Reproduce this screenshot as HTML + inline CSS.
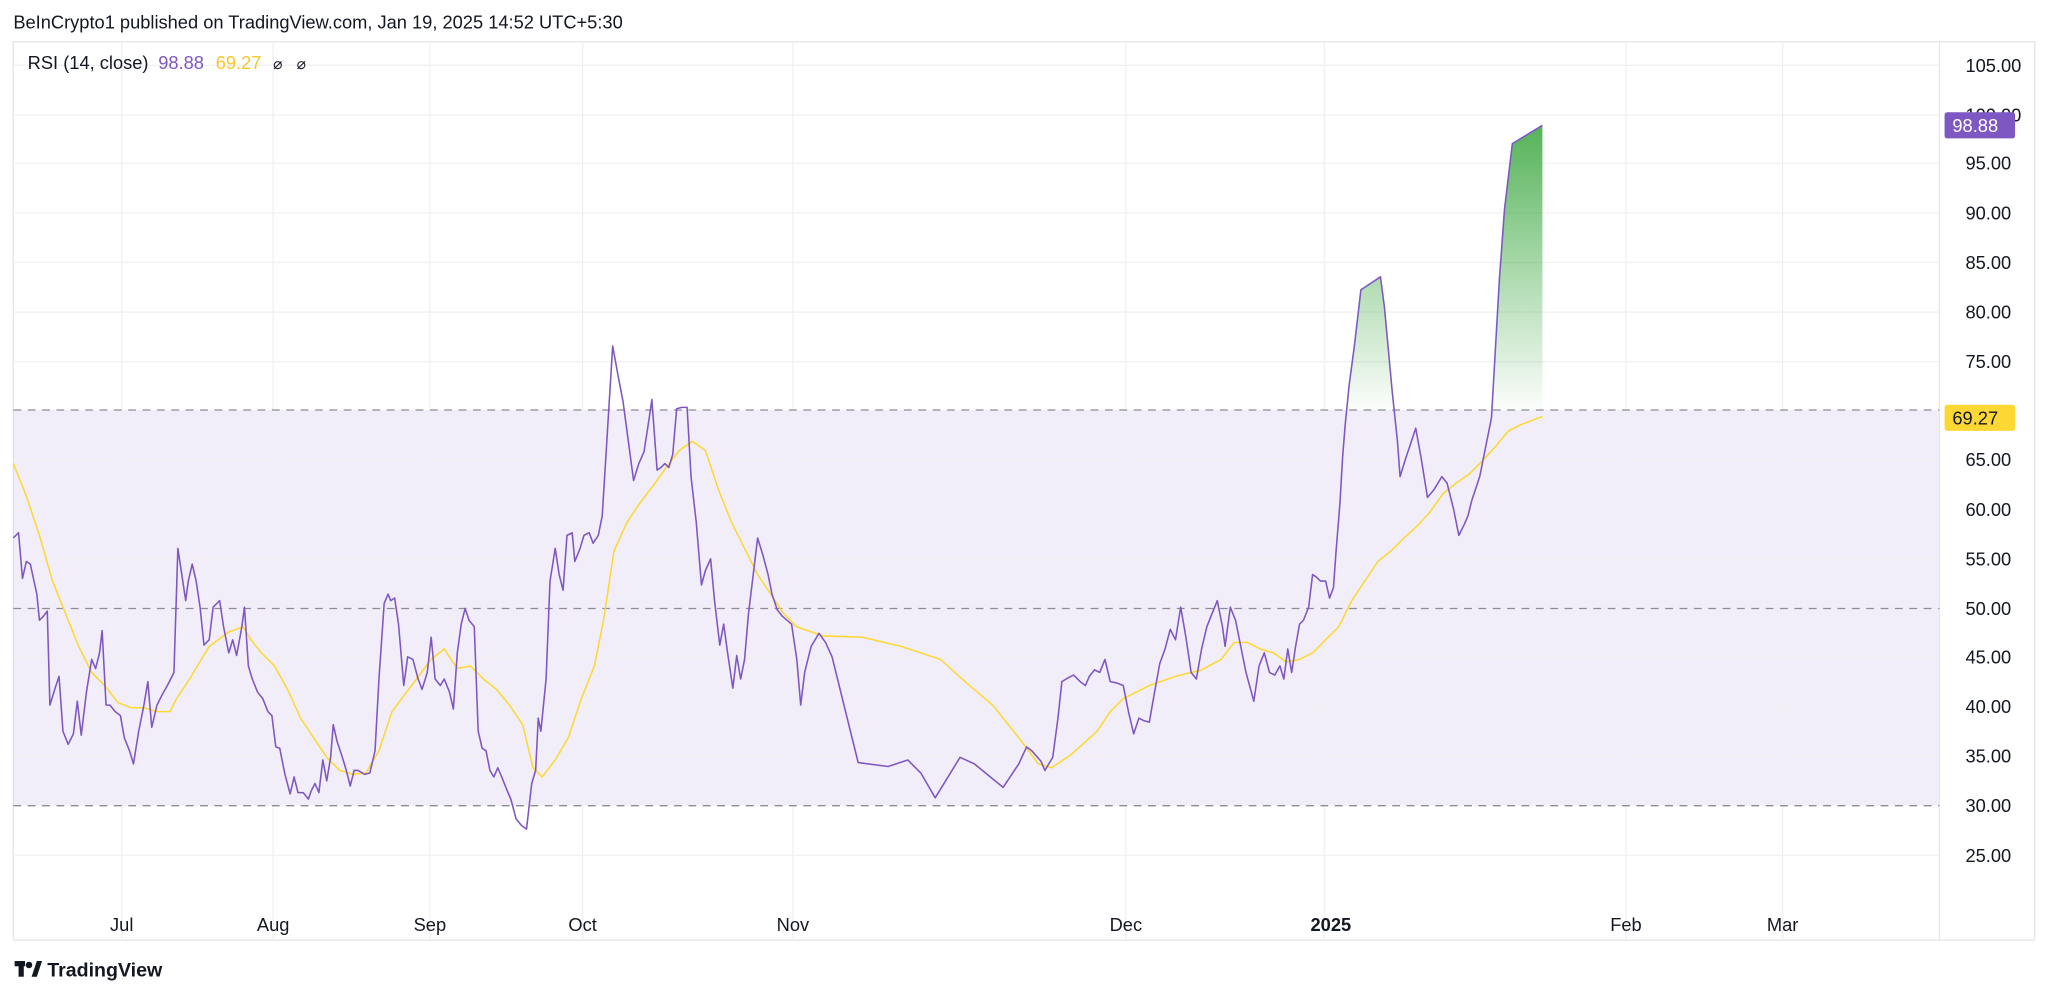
<!DOCTYPE html>
<html><head><meta charset="utf-8"><style>
html,body{margin:0;padding:0;background:#fff;}
svg{display:block;font-family:"Liberation Sans",sans-serif;}
</style></head><body>
<svg width="2048" height="995" viewBox="0 0 1568 762" xmlns="http://www.w3.org/2000/svg">
<defs>
<linearGradient id="g" x1="0" y1="96" x2="0" y2="314" gradientUnits="userSpaceOnUse">
<stop offset="0" stop-color="#4caf50" stop-opacity="0.95"/>
<stop offset="1" stop-color="#4caf50" stop-opacity="0.02"/>
</linearGradient>
<clipPath id="c"><rect x="0" y="0" width="1568" height="314"/></clipPath>
</defs>
<rect x="10" y="32" width="1548" height="688" fill="#fff" stroke="#e6e6ea"/>
<text x="10" y="22" font-size="14" fill="#131722">BeInCrypto1 published on TradingView.com, Jan 19, 2025 14:52 UTC+5:30</text>
<!-- band -->
<rect x="10" y="314" width="1475" height="303" fill="#7e57c2" fill-opacity="0.1"/>
<!-- grid -->
<g stroke="#f0f0f3" stroke-width="1">
<line x1="10" x2="1485" y1="50" y2="50"/><line x1="10" x2="1485" y1="88" y2="88"/><line x1="10" x2="1485" y1="125" y2="125"/><line x1="10" x2="1485" y1="163" y2="163"/><line x1="10" x2="1485" y1="201" y2="201"/><line x1="10" x2="1485" y1="239" y2="239"/><line x1="10" x2="1485" y1="277" y2="277"/><line x1="10" x2="1485" y1="352" y2="352"/><line x1="10" x2="1485" y1="390" y2="390"/><line x1="10" x2="1485" y1="428" y2="428"/><line x1="10" x2="1485" y1="503" y2="503"/><line x1="10" x2="1485" y1="541" y2="541"/><line x1="10" x2="1485" y1="579" y2="579"/><line x1="10" x2="1485" y1="655" y2="655"/>
<line x1="93" x2="93" y1="32" y2="720"/><line x1="209" x2="209" y1="32" y2="720"/><line x1="329" x2="329" y1="32" y2="720"/><line x1="446" x2="446" y1="32" y2="720"/><line x1="607" x2="607" y1="32" y2="720"/><line x1="862" x2="862" y1="32" y2="720"/><line x1="1014" x2="1014" y1="32" y2="720"/><line x1="1245" x2="1245" y1="32" y2="720"/><line x1="1365" x2="1365" y1="32" y2="720"/>
</g>
<line x1="1485" x2="1485" y1="32" y2="720" stroke="#e6e6ea"/>
<g stroke="#8c8c98" stroke-dasharray="6,5" stroke-width="1">
<line x1="10" x2="1485" y1="314" y2="314"/><line x1="10" x2="1485" y1="466" y2="466"/><line x1="10" x2="1485" y1="617" y2="617"/>
</g>
<!-- green fill -->
<g clip-path="url(#c)">
<polygon fill="url(#g)" points="1026,385 1028,350 1030,325 1033,295 1037,265 1042,222 1057,212 1060,235 1066,300 1070,338 1070,314 1026,314"/>
<polygon fill="url(#g)" points="1137,345 1142,320 1148,215 1152,160 1158,110 1181,96 1181,314 1137,314"/>
</g>
<!-- MA -->
<polyline fill="none" stroke="#fdd835" stroke-width="1.2" points="10,355 20,380 30,410 40,445 50,470 60,495 70,515 80,525 90,538 100,542 110,542 120,545 130,545 135,535 145,520 160,495 175,484 186,480 192,490 200,500 210,510 220,528 230,550 240,565 250,580 260,590 270,593 280,592 290,575 300,545 315,525 330,505 340,497 350,512 360,510 370,520 380,528 390,540 400,555 408,588 415,595 425,582 435,565 445,535 455,510 462,475 470,422 480,400 490,385 500,372 510,358 520,345 530,338 540,345 550,375 560,400 570,420 580,440 590,455 600,470 610,480 630,487 660,488 690,495 720,505 740,523 760,540 780,565 795,585 805,588 820,578 840,560 850,545 860,535 880,525 900,518 920,513 935,505 945,492 955,492 965,497 975,500 985,507 995,505 1005,500 1015,490 1025,480 1035,460 1045,445 1055,430 1065,422 1075,412 1085,403 1095,392 1105,378 1115,370 1125,363 1135,353 1145,342 1155,330 1165,325 1181,319"/>
<!-- RSI -->
<polyline fill="none" stroke="#7e57c2" stroke-width="1.2" stroke-linejoin="round" points="10,412 14,408 17,443 20,430 23,432 28,455 30,475 33,472 36,468 38,540 42,527 45,518 48,560 52,570 56,562 59,537 62,563 66,530 70,505 73,512 76,500 78,483 81,540 84,540 88,545 92,548 95,565 99,575 102,585 106,560 110,540 113,522 116,557 120,540 124,532 128,525 133,515 136,420 139,440 142,460 144,445 147,432 150,445 153,465 156,494 160,490 163,465 168,460 171,480 175,500 178,490 181,502 185,480 187,465 190,510 193,520 197,530 201,535 205,545 208,548 211,572 214,573 218,593 222,608 225,595 228,607 232,607 236,612 238,606 241,600 244,607 247,582 250,598 253,580 255,555 258,568 262,580 265,590 268,602 271,590 274,590 279,593 283,592 287,575 290,520 294,462 297,455 299,460 302,458 305,478 309,525 312,503 316,505 320,520 323,528 327,515 330,488 333,520 337,525 340,520 344,530 347,543 350,500 353,478 356,466 359,475 363,480 366,560 369,573 372,575 375,590 378,595 381,588 384,595 388,605 391,612 395,627 399,632 403,635 407,600 410,590 412,550 414,560 418,520 421,445 425,420 428,440 431,452 434,410 438,408 440,430 444,420 447,410 451,408 454,416 458,410 461,395 465,330 469,265 473,287 477,308 481,338 485,368 489,355 493,346 497,320 499,306 503,360 506,358 509,355 512,358 515,348 518,313 522,312 526,312 529,365 533,400 537,448 540,437 544,428 547,460 551,494 554,478 557,500 561,527 564,502 567,520 570,505 573,470 577,437 580,412 584,425 588,440 591,455 595,467 599,472 606,478 610,505 613,540 616,515 621,495 624,490 627,485 632,492 637,503 657,584 680,587 695,582 705,592 716,611 735,580 746,585 768,603 780,585 786,572 790,575 797,583 800,590 806,580 810,550 813,522 818,519 822,517 827,522 831,525 834,518 838,513 842,515 846,505 850,522 855,523 860,525 864,545 868,562 872,550 876,552 880,553 884,530 888,508 892,497 896,482 900,490 904,465 908,488 912,515 916,520 920,497 924,480 928,470 932,460 936,480 938,495 942,465 946,475 950,495 954,515 960,537 964,510 968,500 972,515 976,517 980,510 983,520 986,497 989,515 992,495 995,478 998,475 1002,465 1005,440 1008,442 1011,445 1015,445 1018,458 1021,450 1023,422 1026,385 1028,350 1030,325 1033,295 1037,265 1042,222 1057,212 1060,235 1066,300 1070,338 1072,365 1076,352 1080,340 1084,328 1088,350 1093,381 1098,375 1104,365 1108,370 1113,390 1117,410 1121,402 1124,395 1127,383 1133,365 1137,345 1142,320 1148,215 1152,160 1158,110 1181,96"/>
<!-- legend -->
<text x="21" y="53" font-size="14" fill="#131722">RSI (14, close)</text>
<text x="121" y="53" font-size="14" fill="#7e57c2">98.88</text>
<text x="165" y="53" font-size="14" fill="#f7c72b">69.27</text>
<text x="209" y="53" font-size="12" fill="#131722">⌀</text>
<text x="227" y="53" font-size="12" fill="#131722">⌀</text>
<!-- y labels -->
<g font-size="14" fill="#131722">
<text x="1505" y="55">105.00</text><text x="1505" y="93">100.00</text><text x="1505" y="130">95.00</text><text x="1505" y="168">90.00</text><text x="1505" y="206">85.00</text><text x="1505" y="244">80.00</text><text x="1505" y="282">75.00</text><text x="1505" y="320">70.00</text><text x="1505" y="357">65.00</text><text x="1505" y="395">60.00</text><text x="1505" y="433">55.00</text><text x="1505" y="471">50.00</text><text x="1505" y="508">45.00</text><text x="1505" y="546">40.00</text><text x="1505" y="584">35.00</text><text x="1505" y="622">30.00</text><text x="1505" y="660">25.00</text>
</g>
<rect x="1489" y="86" width="54" height="20" rx="2" fill="#7e57c2"/>
<text x="1495" y="101" font-size="14" fill="#fff">98.88</text>
<rect x="1489" y="310" width="54" height="20" rx="2" fill="#fdd835"/>
<text x="1495" y="325" font-size="14" fill="#131722">69.27</text>
<!-- x labels -->
<g font-size="14" fill="#131722" text-anchor="middle">
<text x="93" y="713">Jul</text><text x="209" y="713">Aug</text><text x="329" y="713">Sep</text><text x="446" y="713">Oct</text><text x="607" y="713">Nov</text><text x="862" y="713">Dec</text><text x="1019" y="713" font-weight="bold">2025</text><text x="1245" y="713">Feb</text><text x="1365" y="713">Mar</text>
</g>
<!-- logo -->
<g fill="#131722">
<rect x="11" y="736" width="8" height="4"/><rect x="14" y="736" width="4" height="12"/>
<circle cx="22" cy="739" r="2.5"/>
<polygon points="24,748 28,736 32,736 28,748"/>
</g>
<text x="36" y="748" font-size="15" font-weight="bold" fill="#131722">TradingView</text>
</svg>
</body></html>
